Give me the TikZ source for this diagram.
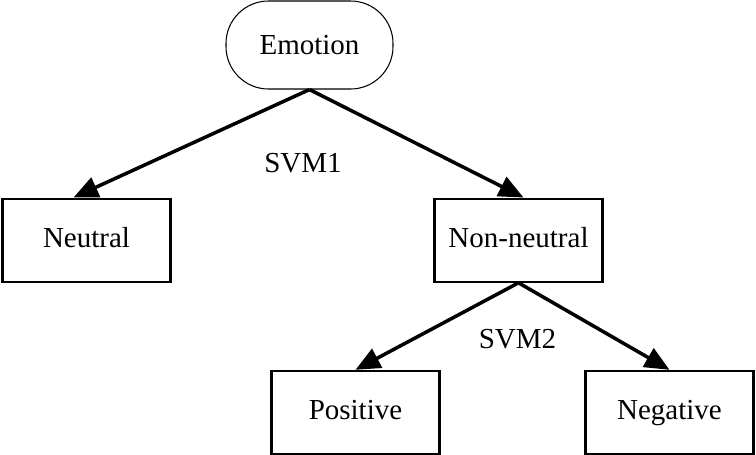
\documentclass[tikz,border=0pt]{standalone}
\usepackage{fontspec}
\setmainfont{Liberation Serif}
\usepackage{tikz}
\usetikzlibrary{arrows.meta, positioning}

\begin{document}
\begin{tikzpicture}[
    font=\fontsize{16.5}{19}\selectfont,
    box/.style={draw,line width=1.3pt,minimum height=1.66cm,minimum width=3.36cm,align=center,text height=11pt,text depth=3pt},
    root/.style={draw,line width=0.6pt,rounded corners=0.85cm,minimum height=1.76cm,minimum width=3.34cm},
    lbl/.style={inner sep=0pt},
    arr/.style={-{Triangle[length=14pt,width=12pt]},line width=2pt},
  ]
    \useasboundingbox (0,0) rectangle (15.12,-9.08);
    \node[root] (emo) at (6.19,-0.9) {Emotion};
    \node[box, below=2.16cm of emo, xshift=-4.46cm] (neu) {Neutral};
    \node[box, below=2.16cm of emo, xshift=4.18cm] (nonneu) {Non-neutral};
    \node[box, below=1.74cm of nonneu, xshift=-3.26cm] (pos) {Positive};
    \node[box, below=1.74cm of nonneu, xshift=3.02cm] (neg) {Negative};

    \node[lbl] (svmone) at (6.06,-3.26) {SVM1};
    \node[lbl] (svmtwo) at (10.35,-6.78) {SVM2};

    \draw[arr] (emo.south) -- ([xshift=-0.26cm]neu.north);
    \draw[arr] (emo.south) -- ([xshift=0.1cm]nonneu.north);
    \draw[arr] (nonneu.south) -- (pos.north);
    \draw[arr] (nonneu.south) -- (neg.north);
\end{tikzpicture}
\end{document}
